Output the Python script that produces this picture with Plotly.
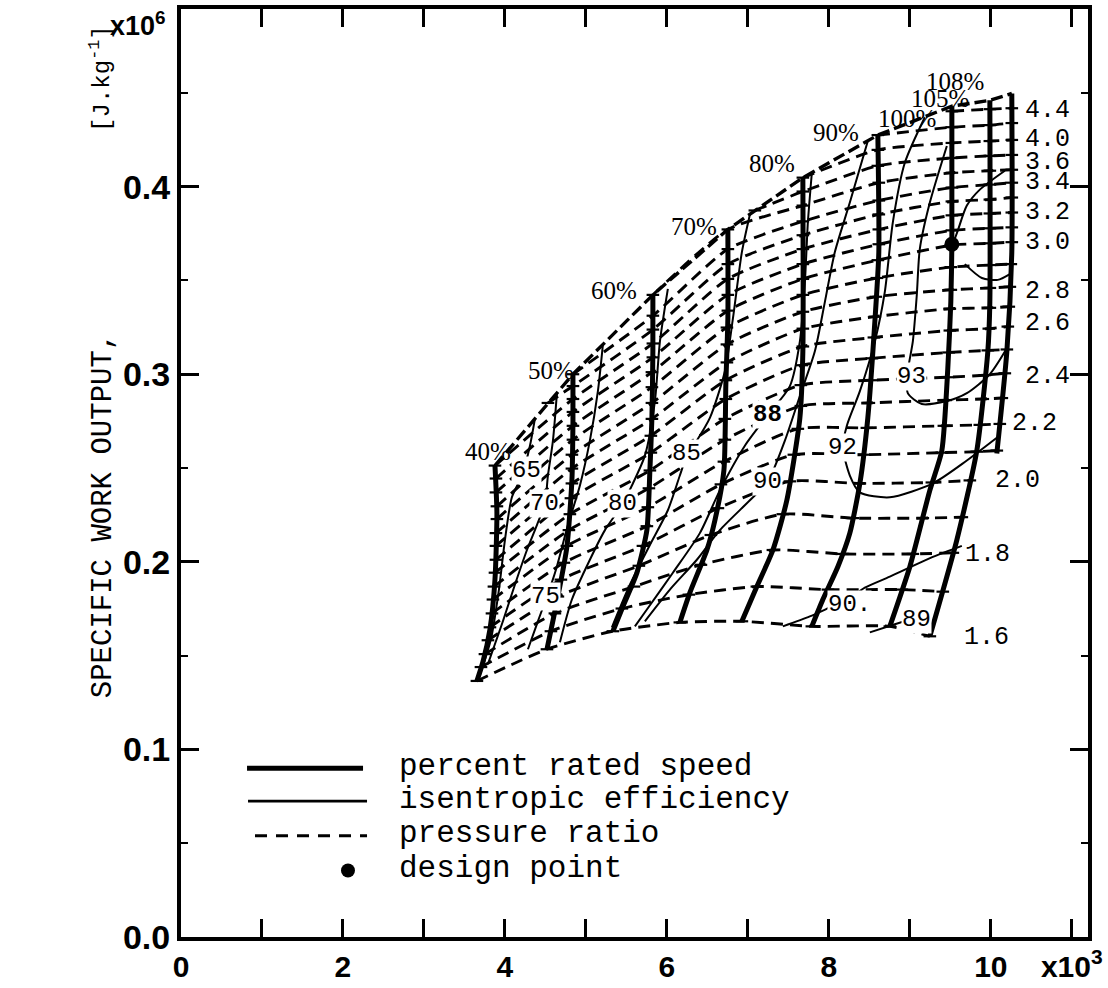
import plotly.graph_objects as go

# ---------------- data (x in 10^3 units, y in 10^6 J/kg) ----------------
speed_names = ["40%", "50%", "60%", "70%", "80%", "90%", "100%", "105%", "108%"]
speed_x = [
    [3.877, 3.901, 3.877, 3.815, 3.728, 3.654],
    [4.840, 4.840, 4.827, 4.765, 4.654, 4.519],
    [5.827, 5.827, 5.815, 5.790, 5.753, 5.630, 5.457, 5.333],
    [6.753, 6.753, 6.728, 6.704, 6.593, 6.494, 6.284, 6.160],
    [7.679, 7.679, 7.642, 7.481, 7.309, 7.111, 6.926],
    [8.605, 8.617, 8.568, 8.481, 8.383, 8.259, 8.111, 7.926, 7.790],
    [9.519, 9.519, 9.506, 9.469, 9.395, 9.247, 9.000, 8.753],
    [9.988, 9.988, 9.963, 9.827, 9.580, 9.247],
    [10.259, 10.259, 10.198, 10.074],
]
speed_y = [
    [0.2513, 0.2259, 0.1905, 0.1640, 0.1466, 0.1365],
    [0.3000, 0.2751, 0.2434, 0.2079, 0.1815, 0.1534],
    [0.3423, 0.3122, 0.2767, 0.2487, 0.2169, 0.1942, 0.1762, 0.1630],
    [0.3772, 0.3296, 0.2947, 0.2487, 0.2222, 0.2063, 0.1836, 0.1677],
    [0.4048, 0.3122, 0.2767, 0.2328, 0.2063, 0.1868, 0.1683],
    [0.4275, 0.3651, 0.3280, 0.2767, 0.2418, 0.2153, 0.1974, 0.1799, 0.1656],
    [0.4429, 0.3693, 0.3386, 0.3032, 0.2593, 0.2381, 0.1974, 0.1656],
    [0.4460, 0.3386, 0.3122, 0.2593, 0.2116, 0.1603],
    [0.4497, 0.3651, 0.3122, 0.2577],
]

pr_values = [1.6, 1.7, 1.8, 1.9, 2.0, 2.1, 2.2, 2.3, 2.4, 2.5, 2.6, 2.7, 2.8, 2.9,
             3.0, 3.1, 3.2, 3.3, 3.4, 3.6, 3.8, 4.0, 4.2, 4.4]
pr_x = [
    [3.654, 4.519, 5.333, 6.160, 6.926, 7.790, 8.753, 9.247],
    [3.704, 4.568, 5.444, 6.272, 7.111, 7.988, 8.901, 9.407],
    [3.753, 4.617, 5.593, 6.420, 7.309, 8.173, 9.037, 9.531],
    [3.790, 4.654, 5.654, 6.543, 7.432, 8.296, 9.160, 9.642],
    [3.815, 4.691, 5.704, 6.630, 7.519, 8.383, 9.272, 9.741],
    [3.840, 4.728, 5.753, 6.667, 7.568, 8.432, 9.395, 9.827, 10.074],
    [3.852, 4.765, 5.765, 6.704, 7.617, 8.469, 9.420, 9.864, 10.111],
    [3.864, 4.790, 5.778, 6.716, 7.654, 8.494, 9.444, 9.901, 10.136],
    [3.877, 4.802, 5.790, 6.716, 7.654, 8.519, 9.457, 9.926, 10.173],
    [3.889, 4.815, 5.802, 6.728, 7.667, 8.531, 9.481, 9.963, 10.198],
    [3.889, 4.827, 5.802, 6.728, 7.679, 8.556, 9.494, 9.975, 10.210],
    [3.889, 4.827, 5.815, 6.741, 7.679, 8.568, 9.494, 9.988, 10.222],
    [3.901, 4.827, 5.815, 6.741, 7.679, 8.580, 9.506, 9.988, 10.235],
    [3.901, 4.840, 5.815, 6.741, 7.679, 8.593, 9.506, 9.988, 10.247],
    [3.889, 4.840, 5.815, 6.753, 7.679, 8.605, 9.519, 9.988, 10.259],
    [3.889, 4.840, 5.827, 6.753, 7.679, 8.617, 9.519, 9.988, 10.259],
    [3.877, 4.840, 5.827, 6.753, 7.679, 8.617, 9.519, 9.988, 10.259],
    [4.531, 4.840, 5.827, 6.753, 7.679, 8.617, 9.519, 9.988, 10.259],
    [4.840, 5.827, 6.753, 7.679, 8.617, 9.519, 9.988, 10.259],
    [5.827, 6.753, 7.679, 8.617, 9.519, 9.988, 10.259],
    [7.086, 7.679, 8.605, 9.519, 9.988, 10.259],
    [7.679, 8.605, 9.519, 9.988, 10.259],
    [8.605, 9.519, 9.988, 10.259],
    [9.519, 9.988, 10.259],
]
pr_y = [
    [0.1365, 0.1534, 0.1630, 0.1677, 0.1683, 0.1656, 0.1656, 0.1603],
    [0.1439, 0.1630, 0.1751, 0.1825, 0.1868, 0.1852, 0.1852, 0.1841],
    [0.1508, 0.1725, 0.1868, 0.1984, 0.2063, 0.2042, 0.2042, 0.2048],
    [0.1582, 0.1815, 0.1979, 0.2143, 0.2254, 0.2233, 0.2233, 0.2238],
    [0.1651, 0.1905, 0.2085, 0.2286, 0.2429, 0.2418, 0.2423, 0.2434],
    [0.1725, 0.1995, 0.2190, 0.2413, 0.2571, 0.2571, 0.2582, 0.2587, 0.2593],
    [0.1799, 0.2085, 0.2291, 0.2534, 0.2709, 0.2714, 0.2725, 0.2730, 0.2735],
    [0.1868, 0.2169, 0.2392, 0.2651, 0.2831, 0.2847, 0.2862, 0.2868, 0.2873],
    [0.1942, 0.2254, 0.2487, 0.2762, 0.2942, 0.2968, 0.2984, 0.2995, 0.3005],
    [0.2011, 0.2339, 0.2582, 0.2868, 0.3048, 0.3085, 0.3116, 0.3127, 0.3132],
    [0.2085, 0.2418, 0.2672, 0.2968, 0.3148, 0.3196, 0.3233, 0.3243, 0.3254],
    [0.2153, 0.2497, 0.2762, 0.3063, 0.3243, 0.3307, 0.3349, 0.3354, 0.3360],
    [0.2228, 0.2571, 0.2847, 0.3159, 0.3333, 0.3413, 0.3450, 0.3460, 0.3466],
    [0.2296, 0.2651, 0.2931, 0.3249, 0.3423, 0.3513, 0.3571, 0.3582, 0.3587],
    [0.2370, 0.2725, 0.3011, 0.3339, 0.3508, 0.3608, 0.3688, 0.3698, 0.3704],
    [0.2444, 0.2799, 0.3090, 0.3423, 0.3587, 0.3693, 0.3767, 0.3778, 0.3783],
    [0.2513, 0.2868, 0.3164, 0.3508, 0.3667, 0.3772, 0.3847, 0.3857, 0.3862],
    [0.2847, 0.2937, 0.3238, 0.3587, 0.3741, 0.3852, 0.3921, 0.3931, 0.3942],
    [0.3000, 0.3312, 0.3667, 0.3815, 0.3926, 0.3995, 0.4011, 0.4021],
    [0.3423, 0.3772, 0.3899, 0.4021, 0.4074, 0.4085, 0.4090],
    [0.3873, 0.3974, 0.4111, 0.4153, 0.4164, 0.4169],
    [0.4048, 0.4196, 0.4233, 0.4243, 0.4249],
    [0.4275, 0.4317, 0.4328, 0.4339],
    [0.4402, 0.4413, 0.4418],
]
pr_label_values = ["4.4", "4.0", "3.6", "3.4", "3.2", "3.0", "2.8", "2.6", "2.4", "2.2", "2.0", "1.8", "1.6"]

eff_x = [
    [4.370, 4.309, 4.210, 4.086, 4.000, 3.926, 3.827, 3.691],
    [4.642, 4.593, 4.531, 4.494, 4.395, 4.272, 4.123, 3.975, 3.790],
    [5.210, 5.148, 5.049, 4.926, 4.778, 4.630, 4.519, 4.407, 4.284],
    [6.012, 5.914, 5.852, 5.728, 5.568, 5.444, 5.235, 5.049, 4.827, 4.679],
    [7.025, 6.926, 6.815, 6.716, 6.531, 6.346, 6.247, 6.160, 6.012, 5.790, 5.543, 5.321],
    [7.790, 7.741, 7.704, 7.642, 7.519, 7.247, 6.963, 6.654, 6.407, 6.074, 5.753, 5.605],
    [8.481, 8.259, 8.074, 7.951, 7.827, 7.642, 7.457, 7.247, 7.025, 6.654, 6.370, 6.037, 5.728],
    [9.185, 8.938, 8.790, 8.691, 8.568, 8.383, 8.222, 8.173, 8.259, 8.383, 8.753, 9.284, 9.704, 10.074],
    [9.457, 9.247, 9.123, 9.086, 9.037, 8.975, 8.975, 9.148, 9.457, 9.704, 9.988, 10.198],
    [10.173, 9.864, 9.704, 9.593, 9.531],
    [9.679, 9.889, 10.086, 10.235],
    [7.432, 7.765, 8.012, 8.235, 8.444, 8.753, 9.284, 9.642],
    [8.506, 8.815, 9.123],
]
eff_y = [
    [0.2762, 0.2619, 0.2460, 0.2344, 0.2116, 0.1852, 0.1587, 0.1397],
    [0.2899, 0.2646, 0.2460, 0.2312, 0.2196, 0.2063, 0.1878, 0.1683, 0.1455],
    [0.3159, 0.2910, 0.2646, 0.2407, 0.2196, 0.1958, 0.1815, 0.1683, 0.1534],
    [0.3455, 0.3175, 0.2857, 0.2566, 0.2407, 0.2302, 0.2169, 0.2011, 0.1799, 0.1571],
    [0.3852, 0.3651, 0.3296, 0.3016, 0.2767, 0.2630, 0.2566, 0.2460, 0.2275, 0.2090, 0.1878, 0.1651],
    [0.4074, 0.3810, 0.3492, 0.3175, 0.2937, 0.2783, 0.2619, 0.2381, 0.2153, 0.1942, 0.1746, 0.1656],
    [0.4243, 0.3915, 0.3651, 0.3386, 0.3122, 0.2884, 0.2646, 0.2429, 0.2328, 0.2169, 0.2011, 0.1852, 0.1683],
    [0.4370, 0.4127, 0.3810, 0.3439, 0.3175, 0.2910, 0.2725, 0.2608, 0.2460, 0.2370, 0.2344, 0.2418, 0.2540, 0.2661],
    [0.4217, 0.3915, 0.3667, 0.3423, 0.3175, 0.3016, 0.2899, 0.2841, 0.2857, 0.2899, 0.3000, 0.3138],
    [0.4085, 0.3984, 0.3899, 0.3767, 0.3693],
    [0.3587, 0.3513, 0.3503, 0.3534],
    [0.1656, 0.1709, 0.1757, 0.1799, 0.1862, 0.1921, 0.2026, 0.2085],
    [0.1624, 0.1667, 0.1709],
]
eff_labels = ["65", "70", "75", "80", "85", "88", "90", "92", "93", "90.", "89"]

design_x = [9.519]
design_y = [0.3693]

x_tick_vals = [0, 2, 4, 6, 8, 10, 11]
x_tick_text = ["0", "2", "4", "6", "8", "10", "x10<sup>3</sup>"]
x_minor_vals = [1, 3, 5, 7, 9]
y_tick_vals = [0.0, 0.1, 0.2, 0.3, 0.4]
y_tick_text = ["0.0", "0.1", "0.2", "0.3", "0.4"]
y_minor_vals = [0.05, 0.15, 0.25, 0.35, 0.45]

# ---------------- label placement (layout, data coords) ----------------
speed_label_pos = [(3.790, 0.2587), (4.568, 0.3021), (5.346, 0.3444), (6.333, 0.3788),
                   (7.296, 0.4122), (8.086, 0.4291), (8.963, 0.4365), (9.370, 0.4471),
                   (9.556, 0.4561)]
pr_label_pos = [(10.395, 0.4407), (10.395, 0.4249), (10.395, 0.4127), (10.395, 0.4021),
                (10.395, 0.3862), (10.395, 0.3704), (10.395, 0.3439), (10.395, 0.3270),
                (10.395, 0.2989), (10.235, 0.2735), (10.025, 0.2434), (9.654, 0.2037),
                (9.642, 0.1598)]
eff_label_pos = [(4.272, 0.2487), (4.494, 0.2312), (4.506, 0.1815), (5.457, 0.2312),
                 (6.247, 0.2577), (7.247, 0.2783), (7.247, 0.2429), (8.173, 0.2608),
                 (9.025, 0.2989), (8.259, 0.1772), (9.086, 0.1693)]

BLACK = "black"
fig = go.Figure()

# pressure-ratio lines (dashed), small marks where they cross speed lines
for xs, ys in zip(pr_x, pr_y):
    fig.add_trace(go.Scatter(x=xs, y=ys, mode="lines+markers", hoverinfo="skip", showlegend=False,
                             line=dict(color=BLACK, width=2.9, dash="12px,7px",
                                       shape="spline", smoothing=0.6),
                             marker=dict(symbol="line-ew-open", size=9,
                                         line=dict(color=BLACK, width=2.2))))

# upper boundary through the tops of the speed lines
fig.add_trace(go.Scatter(x=[s[0] for s in speed_x], y=[s[0] for s in speed_y], mode="lines",
                         hoverinfo="skip", showlegend=False,
                         line=dict(color=BLACK, width=3.4, dash="12px,5px")))

# isentropic efficiency contours
for xs, ys in zip(eff_x, eff_y):
    fig.add_trace(go.Scatter(x=xs, y=ys, mode="lines", hoverinfo="skip", showlegend=False,
                             line=dict(color=BLACK, width=2.0, shape="spline", smoothing=0.7)))

# speed lines
for xs, ys in zip(speed_x, speed_y):
    fig.add_trace(go.Scatter(x=xs, y=ys, mode="lines", hoverinfo="skip", showlegend=False,
                             line=dict(color=BLACK, width=5, shape="spline", smoothing=0.6)))

# design point
fig.add_trace(go.Scatter(x=design_x, y=design_y, mode="markers", hoverinfo="skip",
                         showlegend=False, marker=dict(color=BLACK, size=15)))

ann = []
for txt, (x, y) in zip(speed_names, speed_label_pos):
    ann.append(dict(x=x, y=y, xref="x", yref="y", text=txt, showarrow=False,
                    xanchor="center", yanchor="middle",
                    font=dict(family="Liberation Serif", size=25, color=BLACK)))
for txt, (x, y) in zip(pr_label_values, pr_label_pos):
    ann.append(dict(x=x, y=y, xref="x", yref="y", text=txt, showarrow=False,
                    xanchor="left", yanchor="middle",
                    font=dict(family="Liberation Mono", size=25, color=BLACK)))
for txt, (x, y) in zip(eff_labels, eff_label_pos):
    ann.append(dict(x=x, y=y, xref="x", yref="y", text=txt, showarrow=False,
                    xanchor="center", yanchor="middle", bgcolor="white", borderpad=0,
                    font=dict(family="Liberation Mono", size=24, color=BLACK,
                              weight="bold" if txt == "88" else "normal")))

# axis annotations
ann.append(dict(x=-0.047, y=0.984, xref="paper", yref="paper", text="x10<sup>6</sup>",
                showarrow=False, xanchor="center", yanchor="middle",
                font=dict(family="Liberation Sans", size=27, color=BLACK, weight="bold")))
ann.append(dict(x=-0.086, y=0.4545, xref="paper", yref="paper", text="SPECIFIC WORK OUTPUT,",
                showarrow=False, textangle=-90, xanchor="center", yanchor="middle",
                font=dict(family="Liberation Mono", size=29, color=BLACK)))
ann.append(dict(x=-0.089, y=0.925, xref="paper", yref="paper", text="[J.kg<sup>-1</sup>]",
                showarrow=False, textangle=-90, xanchor="center", yanchor="middle",
                font=dict(family="Liberation Mono", size=24, color=BLACK)))

# legend (manual)
legend_text = ["percent rated speed", "isentropic efficiency", "pressure ratio", "design point"]
legend_text_y = [0.1840, 0.1487, 0.1112, 0.0738]
for txt, y in zip(legend_text, legend_text_y):
    ann.append(dict(x=0.2381, y=y, xref="paper", yref="paper", text=txt, showarrow=False,
                    xanchor="left", yanchor="middle",
                    font=dict(family="Liberation Mono", size=31, color=BLACK)))

shapes = [
    dict(type="line", xref="paper", yref="paper", x0=0.0728, x1=0.2007, y0=0.1818, y1=0.1818,
         line=dict(color=BLACK, width=5)),
    dict(type="line", xref="paper", yref="paper", x0=0.0739, x1=0.2051, y0=0.1465, y1=0.1465,
         line=dict(color=BLACK, width=2.8)),
    dict(type="line", xref="paper", yref="paper", x0=0.0816, x1=0.2051, y0=0.1091, y1=0.1091,
         line=dict(color=BLACK, width=2.8, dash="12px,9px")),
    dict(type="circle", xref="paper", yref="paper", x0=0.1841 - 0.0077, x1=0.1841 + 0.0077,
         y0=0.0717 - 0.0075, y1=0.0717 + 0.0075, fillcolor=BLACK, line=dict(color=BLACK, width=0)),
]

x_font = dict(family="Liberation Sans", size=30, color=BLACK, weight="bold")
y_font = dict(family="Liberation Sans", size=34, color=BLACK, weight="bold")
fig.update_layout(
    width=1108, height=988,
    margin=dict(l=181, r=20, t=5, b=48),
    paper_bgcolor="white", plot_bgcolor="white",
    annotations=ann, shapes=shapes,
    xaxis=dict(range=[0, 11.2], tickvals=x_tick_vals, ticktext=x_tick_text,
               ticks="inside", ticklen=18, tickwidth=3, tickcolor=BLACK,
               showline=True, linewidth=4, linecolor=BLACK, mirror="ticks",
               showgrid=False, zeroline=False, tickfont=x_font,
               minor=dict(ticks="inside", tickvals=x_minor_vals, ticklen=18, tickwidth=3,
                          tickcolor=BLACK, showgrid=False)),
    yaxis=dict(range=[0, 0.4947], tickvals=y_tick_vals, ticktext=y_tick_text,
               ticks="inside", ticklen=18, tickwidth=3, tickcolor=BLACK,
               showline=True, linewidth=4, linecolor=BLACK, mirror="ticks",
               showgrid=False, zeroline=False, tickfont=y_font,
               minor=dict(ticks="inside", tickvals=y_minor_vals,
                          ticklen=7, tickwidth=2, tickcolor=BLACK, showgrid=False)),
)

fig.write_html("out.html")
